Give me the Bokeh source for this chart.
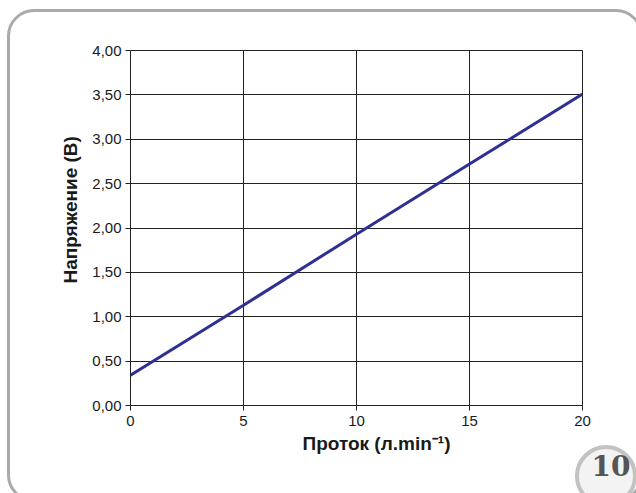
from bokeh.plotting import figure
from bokeh.models import FixedTicker, Range1d, Div, Title
from bokeh.layouts import column
from bokeh.embed import file_html
from bokeh.resources import INLINE

flow = [0, 5, 10, 15, 20]
voltage = [0.34, 1.13, 1.93, 2.72, 3.51]
x_ticks = [0, 5, 10, 15, 20]
x_tick_labels = ["0", "5", "10", "15", "20"]
y_ticks = [0.0, 0.5, 1.0, 1.5, 2.0, 2.5, 3.0, 3.5, 4.0]
y_tick_labels = ["0,00", "0,50", "1,00", "1,50", "2,00", "2,50", "3,00", "3,50", "4,00"]
x_title = "Проток (л.min⁻¹)"
y_title = "Напряжение (В)"
badge = "10"

W, H = 636, 493
p = figure(width=W, height=H, output_backend="svg", toolbar_location=None,
           x_range=Range1d(0, 20), y_range=Range1d(0, 4))
p.min_border_left = 130
p.min_border_right = W - 582
p.min_border_top = 50
p.min_border_bottom = H - 405
p.background_fill_color = "white"
p.border_fill_color = "white"
p.outline_line_color = "#222222"

p.line(flow, voltage, line_color="#2e3192", line_width=3)

p.xaxis.ticker = FixedTicker(ticks=x_ticks)
p.yaxis.ticker = FixedTicker(ticks=y_ticks)
p.xaxis.major_label_overrides = {t: l for t, l in zip(x_ticks, x_tick_labels)}
p.yaxis.major_label_overrides = {t: l for t, l in zip(y_ticks, y_tick_labels)}
for ax in (p.xaxis[0], p.yaxis[0]):
    ax.minor_tick_line_color = None
    ax.major_tick_in = 0
    ax.major_tick_out = 5
    ax.major_tick_line_color = "#222222"
    ax.axis_line_color = "#222222"
    ax.major_label_text_font = "Liberation Sans"
    ax.major_label_text_font_size = "15px"
    ax.major_label_text_color = "#1a1a1a"
p.xaxis.major_label_standoff = 5
p.yaxis.major_label_standoff = 4

p.add_layout(Title(text=x_title, align="left", offset=172, standoff=4,
                   text_font="Liberation Sans", text_font_size="19px",
                   text_font_style="bold", text_color="#1a1a1a"), "below")
p.add_layout(Title(text=y_title, align="left", offset=122, standoff=17,
                   text_font="Liberation Sans", text_font_size="19px",
                   text_font_style="bold", text_color="#1a1a1a"), "left")

p.xgrid.ticker = FixedTicker(ticks=x_ticks)
p.ygrid.ticker = FixedTicker(ticks=y_ticks)
p.grid.grid_line_color = "#222222"
p.grid.grid_line_width = 1

frame_div = Div(text="", width=636, height=500, margin=0, styles={
    "position": "absolute", "left": "7px", "top": "9px",
    "width": "636px", "height": "500px", "box-sizing": "border-box",
    "border": "3px solid #aaaaaa", "border-radius": "27px",
    "background": "transparent", "pointer-events": "none",
})
badge_div = Div(text=badge, width=62, height=62, margin=0, styles={
    "position": "absolute", "left": "575px", "top": "445px",
    "width": "62px", "height": "62px", "box-sizing": "border-box",
    "border": "4px solid #c2c2c2", "border-radius": "50%",
    "background": "#f3f3f3", "text-align": "center", "line-height": "36px",
    "padding-left": "10px",
    "font-family": "'DejaVu Serif', serif", "font-weight": "bold",
    "font-size": "28px", "color": "#555555", "pointer-events": "none",
})

layout = column(p, frame_div, badge_div, width=W, height=H, styles={
    "position": "relative", "overflow": "hidden"})

open("out.html", "w").write(file_html(layout, INLINE))
